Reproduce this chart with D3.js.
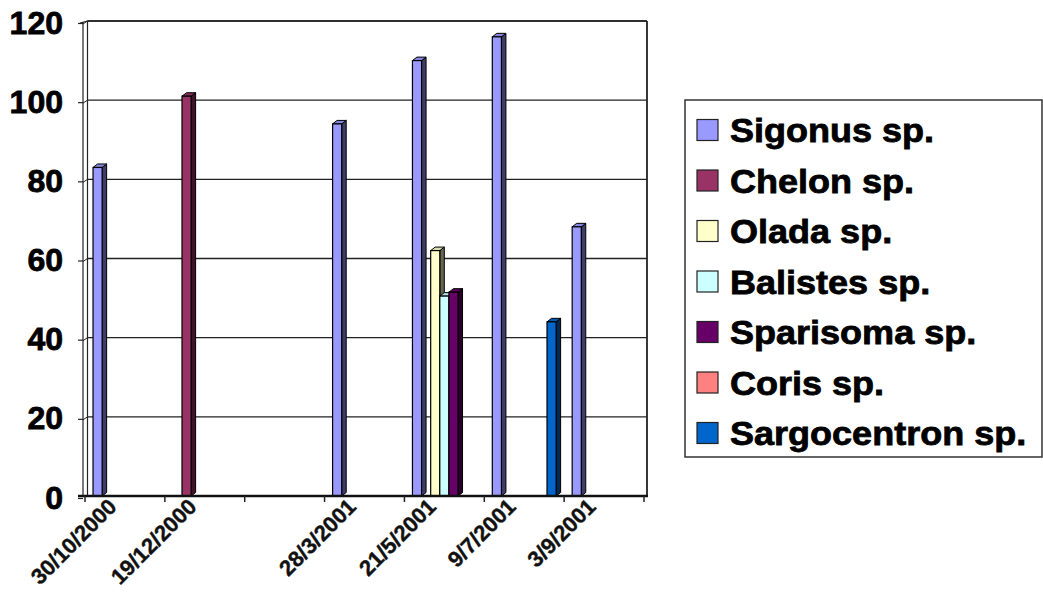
<!DOCTYPE html>
<html>
<head>
<meta charset="utf-8">
<script src="https://cdn.jsdelivr.net/npm/d3@7"></script>
<style>
  html, body { margin: 0; padding: 0; background: #fff; }
  svg { display: block; font-family: "Liberation Sans", Arial, sans-serif; font-weight: bold; }
</style>
</head>
<body>
<svg id="chart" width="1043" height="592"></svg>
<script>
// Sampling dates (the third slot on the axis is an empty category)
const categories = ["30/10/2000", "19/12/2000", "", "28/3/2001", "21/5/2001", "9/7/2001", "3/9/2001"];

// Species shown in the legend
const seriesNames = ["Sigonus sp.", "Chelon sp.", "Olada sp.", "Balistes sp.", "Sparisoma sp.", "Coris sp.", "Sargocentron sp."];

// Counts per sampling date (null = not recorded)
const sigonus      = [83,   null, null, 94,   110,  116,  68];
const chelon       = [null, 101,  null, null, null, null, null];
const olada        = [null, null, null, null, 62,   null, null];
const balistes     = [null, null, null, null, 50.5, null, null];
const sparisoma    = [null, null, null, null, 51.5, null, null];
const coris        = [null, null, null, null, null, null, null];
const sargocentron = [null, null, null, null, null, 44,   null];

const yTicks = [0, 20, 40, 60, 80, 100, 120];

const seriesColors = ["#9999FF", "#993366", "#FFFFCC", "#CCFFFF", "#660066", "#FF8080", "#0066CC"];

const seriesValues = [sigonus, chelon, olada, balistes, sparisoma, coris, sargocentron];

const svg = d3.select("#chart");

// Plot geometry
const axisX = 83, wallX = 87.5, plotRight = 647, floorY = 496, plotTop = 21;
const DX = 4.5, DY = -3.5; // 3-D depth offset

const x = d3.scaleBand().domain(categories).range([85, 644]).paddingInner(0).paddingOuter(0);
const xs = d3.scaleBand().domain(seriesNames).range([0, x.bandwidth()]).paddingInner(0).paddingOuter(0.88);
const y = d3.scaleLinear().domain([0, 120]).range([floorY, plotTop]);

// Back wall gridlines
const grid = svg.append("g");
yTicks.forEach(v => {
  if (v === 0) return;
  grid.append("line")
    .attr("x1", wallX).attr("x2", plotRight)
    .attr("y1", y(v)).attr("y2", y(v))
    .attr("stroke", "#222").attr("stroke-width", 1.3);
  grid.append("line")
    .attr("x1", axisX).attr("x2", wallX)
    .attr("y1", y(v) + 3).attr("y2", y(v))
    .attr("stroke", "#222").attr("stroke-width", 1);
});
// Wall frame
grid.append("line").attr("x1", wallX).attr("x2", plotRight).attr("y1", y(120)).attr("y2", y(120))
  .attr("stroke", "#222").attr("stroke-width", 1.5);
grid.append("line").attr("x1", plotRight).attr("x2", plotRight).attr("y1", y(120)).attr("y2", floorY)
  .attr("stroke", "#222").attr("stroke-width", 1.8);
grid.append("line").attr("x1", wallX).attr("x2", wallX).attr("y1", y(120)).attr("y2", floorY)
  .attr("stroke", "#222").attr("stroke-width", 1.2);
grid.append("line").attr("x1", axisX).attr("x2", axisX).attr("y1", y(120) + 1).attr("y2", floorY + 1)
  .attr("stroke", "#222").attr("stroke-width", 1.2);
grid.append("line").attr("x1", axisX - 3).attr("x2", wallX).attr("y1", y(120) + 2).attr("y2", y(120))
  .attr("stroke", "#222").attr("stroke-width", 1.2);

// Y axis ticks and labels
const yAxis = svg.append("g");
yTicks.forEach(v => {
  yAxis.append("line")
    .attr("x1", axisX - 5).attr("x2", axisX)
    .attr("y1", y(v) + 2.5).attr("y2", y(v) + 2.5)
    .attr("stroke", "#222").attr("stroke-width", 1.2);
  yAxis.append("text")
    .attr("x", 63).attr("y", y(v) + 1)
    .attr("dy", "0.36em")
    .attr("text-anchor", "end")
    .attr("font-size", 32)
    .attr("fill", "#000")
    .attr("stroke", "#000").attr("stroke-width", 0.8)
    .text(v);
});

// 3-D columns, drawn left to right so each column covers its neighbour's side face
const bars = svg.append("g");
categories.forEach((cat, ci) => {
  seriesNames.forEach((name, si) => {
    const v = seriesValues[si][ci];
    if (v == null) return;
    const c = seriesColors[si];
    const x0 = x(cat) + xs(name);
    const w = xs.bandwidth();
    const yv = y(v), y0 = y(0);
    const side = d3.color(c).darker(2.6).formatHex();
    const topC = d3.color(c).darker(0.4).formatHex();
    bars.append("polygon")
      .attr("points", [[x0 + w, yv], [x0 + w + DX, yv + DY], [x0 + w + DX, y0 + DY], [x0 + w, y0]].join(" "))
      .attr("fill", side).attr("stroke", "#000").attr("stroke-width", 1);
    bars.append("polygon")
      .attr("points", [[x0, yv], [x0 + DX, yv + DY], [x0 + w + DX, yv + DY], [x0 + w, yv]].join(" "))
      .attr("fill", topC).attr("stroke", "#000").attr("stroke-width", 1);
    bars.append("rect")
      .attr("x", x0).attr("y", yv)
      .attr("width", w).attr("height", y0 - yv)
      .attr("fill", c).attr("stroke", "#000").attr("stroke-width", 1.2);
  });
});

// Floor / category axis line
svg.append("line").attr("x1", axisX - 5).attr("x2", plotRight + 1).attr("y1", floorY).attr("y2", floorY)
  .attr("stroke", "#111").attr("stroke-width", 2.5);

// Category ticks at band boundaries
const xAxis = svg.append("g");
const bounds = categories.map(c => x(c)).concat([x.range()[1]]);
bounds.forEach(bx => {
  xAxis.append("line")
    .attr("x1", bx).attr("x2", bx)
    .attr("y1", floorY).attr("y2", floorY + 6)
    .attr("stroke", "#222").attr("stroke-width", 1.5);
});
categories.forEach(cat => {
  if (!cat) return;
  const cx = x(cat) + x.bandwidth() / 2 - 7;
  xAxis.append("text")
    .attr("transform", `translate(${cx},${floorY + 12}) rotate(-45)`)
    .attr("text-anchor", "end")
    .attr("font-size", 22)
    .attr("fill", "#111")
    .attr("stroke", "#111").attr("stroke-width", 0.4)
    .text(cat);
});

// Legend
const legend = svg.append("g");
legend.append("rect")
  .attr("x", 685).attr("y", 100).attr("width", 357).attr("height", 357)
  .attr("fill", "#fff").attr("stroke", "#333").attr("stroke-width", 1.5);
seriesNames.forEach((name, i) => {
  const cy = 130 + i * 50.5;
  legend.append("rect")
    .attr("x", 697).attr("y", cy - 10.5).attr("width", 21).attr("height", 21)
    .attr("fill", seriesColors[i]).attr("stroke", "#222").attr("stroke-width", 1.2);
  legend.append("text")
    .attr("transform", `translate(730,${cy + 12}) scale(1.06,1)`)
    .attr("font-size", 34)
    .attr("fill", "#000")
    .attr("stroke", "#000").attr("stroke-width", 0.8)
    .text(name);
});
</script>
</body>
</html>
